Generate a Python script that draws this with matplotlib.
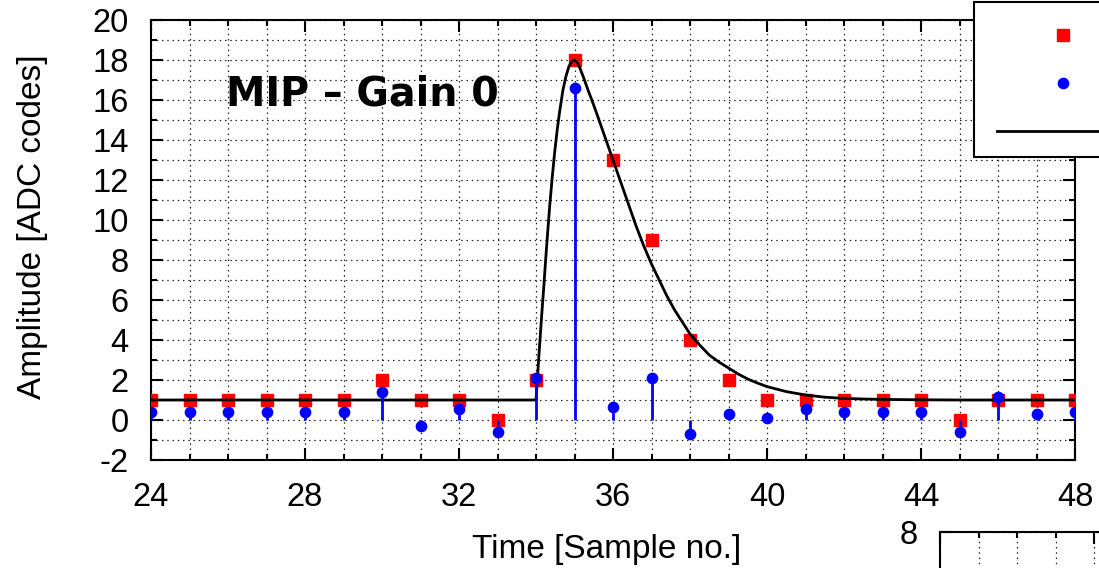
import numpy as np
import matplotlib.pyplot as plt
from matplotlib.lines import Line2D
from matplotlib.patches import Rectangle
from matplotlib.ticker import MultipleLocator

# sample numbers and measured amplitudes
samples = list(range(24, 49))
raw_adc = [1, 1, 1, 1, 1, 1, 2, 1, 1, 0, 2, 18, 13, 9, 4, 2, 1, 1, 1, 1, 1, 0, 1, 1, 1]
sub_adc = [0.41, 0.41, 0.41, 0.41, 0.41, 0.41, 1.42, -0.28, 0.55, -0.58, 2.1, 16.6,
           0.67, 2.12, -0.7, 0.3, 0.08, 0.55, 0.42, 0.42, 0.42, -0.58, 1.13, 0.3, 0.42]

# fitted pulse shape
fit_t = [24, 34.0, 34.03, 34.06, 34.1, 34.15, 34.2, 34.25, 34.3, 34.36, 34.42, 34.48,
         34.55, 34.62, 34.7, 34.78, 34.86, 34.94, 35.0, 35.06, 35.14, 35.24, 35.35,
         35.45, 35.6, 35.8, 36.0, 36.2, 36.4, 36.6, 36.8, 37.0, 37.2, 37.4, 37.6, 37.8,
         38.0, 38.25, 38.5, 38.75, 39.0, 39.25, 39.5, 39.75, 40.0, 40.5, 41.0, 41.5,
         42.0, 42.5, 43.0, 44.0, 45.0, 48.0]
fit_a = [1.0, 1.0, 1.8, 2.8, 3.9, 5.3, 6.6, 8.0, 9.3, 10.8, 12.1, 13.3,
         14.5, 15.5, 16.5, 17.2, 17.7, 17.95, 18.0, 17.9, 17.6, 17.1, 16.5,
         16.0, 15.2, 14.1, 13.0, 11.9, 10.8, 9.7, 8.7, 7.8, 7.0, 6.2, 5.5, 4.9,
         4.3, 3.75, 3.25, 2.9, 2.6, 2.3, 2.05, 1.85, 1.67, 1.42, 1.25, 1.14,
         1.08, 1.05, 1.03, 1.01, 1.0, 1.0]

legend_labels = ["Raw samples", "Pedestal subtracted", "Fit"]

plt.rcParams['font.family'] = ['Liberation Sans', 'DejaVu Sans']
plt.rcParams['axes.unicode_minus'] = False

W, H = 1099, 568
fig = plt.figure(figsize=(W / 100, H / 100), dpi=100)


def style_axes(ax):
    ax.set_xlim(24, 48)
    ax.xaxis.set_major_locator(MultipleLocator(4))
    ax.xaxis.set_minor_locator(MultipleLocator(1))
    ax.yaxis.set_major_locator(MultipleLocator(2))
    ax.yaxis.set_minor_locator(MultipleLocator(1))
    ax.tick_params(which='both', direction='in', top=True, right=True,
                   width=1.5, labelsize=23.5, pad=16)
    ax.tick_params(which='major', length=8.5)
    ax.tick_params(which='minor', length=4)
    ax.grid(which='both', color='#222222', linestyle=(0, (1.2, 3)), linewidth=0.9)
    ax.set_axisbelow(True)
    for s in ax.spines.values():
        s.set_linewidth(1.5)


ax = fig.add_axes([151 / W, 1 - 460 / H, 924 / W, 440 / H])
style_axes(ax)
ax.set_ylim(-2, 20)

ax.plot(samples, raw_adc, 's', color='#ff0000', markersize=9, zorder=3)
ax.plot(fit_t, fit_a, '-', color='black', linewidth=2, zorder=4)
ax.vlines(samples, 0, sub_adc, color='#0000ff', linewidth=2, zorder=5)
ax.plot(samples, sub_adc, 'o', color='#0000ff', markersize=7.4, zorder=6)

ax.text(25.95, 15.75, "MIP – Gain 0", fontsize=28.5, fontweight='bold',
        family='DejaVu Sans', ha='left', va='baseline')

ax.set_xlabel("Time [Sample no.]", fontsize=24)
ax.set_ylabel("Amplitude [ADC codes]", fontsize=24)
ax.xaxis.set_label_coords(0.493, -0.168)
ax.yaxis.set_label_coords(-0.111, 0.53)

# neighbouring panel peeking in at the bottom right
ax2 = fig.add_axes([940 / W, 1 - 531.7 / H - 440 / H, 924 / W, 440 / H])
style_axes(ax2)
ax2.set_ylim(-2, 8)

# key box, cut off by the right edge
fig.patches.append(Rectangle((974 / W, 1 - 157 / H), 300 / W, 155 / H,
                             transform=fig.transFigure, facecolor='white',
                             edgecolor='black', linewidth=1.5, zorder=10))

handles = [
    Line2D([], [], marker='s', linestyle='none', color='#ff0000', markersize=9),
    Line2D([], [], marker='o', linestyle='none', color='#0000ff', markersize=7.4),
    Line2D([], [], color='black', linewidth=2),
]
leg = fig.legend(handles, legend_labels, loc='upper left',
                 bbox_to_anchor=(981 / W, 1 - 6 / H), fontsize=23.5,
                 frameon=False, borderpad=0.5, labelspacing=0.53,
                 handlelength=4.0, handletextpad=0.6, borderaxespad=0)
leg.set_zorder(11)

fig.savefig("out.png", dpi=100)
